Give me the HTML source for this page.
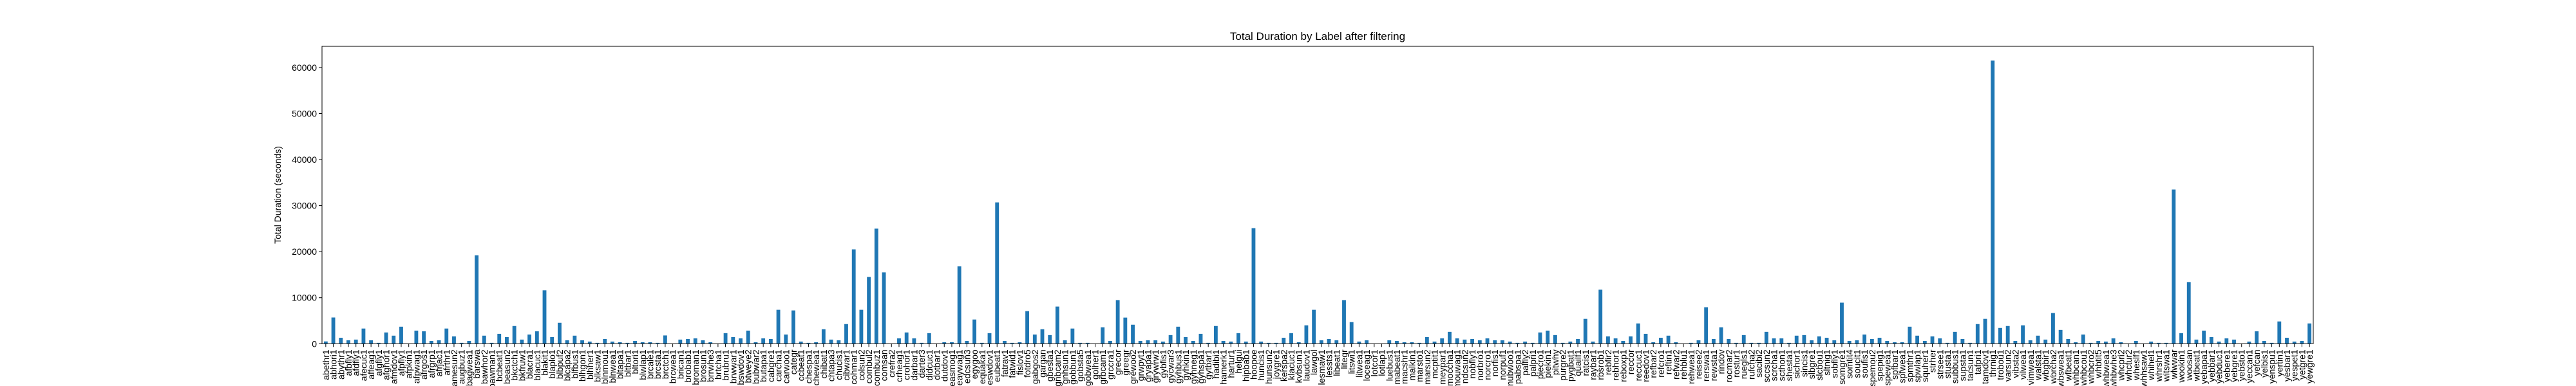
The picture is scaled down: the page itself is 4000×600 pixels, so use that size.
<!DOCTYPE html>
<html><head><meta charset="utf-8"><style>
html,body{margin:0;padding:0;background:#fff;width:4000px;height:600px;overflow:hidden}
svg text{font-family:"Liberation Sans","DejaVu Sans",sans-serif;fill:#000}
</style></head><body>
<svg id="chart" width="4000" height="600" xmlns="http://www.w3.org/2000/svg">
<text x="2046" y="62" font-size="17" text-anchor="middle">Total Duration by Label after filtering</text>
<text transform="translate(436,303) rotate(-90)" font-size="14" text-anchor="middle">Total Duration (seconds)</text>
<g id="bars"></g>
<g id="yaxis"></g>
<g id="xaxis"></g>
<rect x="500" y="72" width="3092" height="462.3" fill="none" stroke="#000" stroke-width="1"/>
</svg>
<script>
const labels = ["abethr1","abhori1","abythr1","afbfly1","afdfly1","afecuc1","affeag1","afgfly1","afghor1","afmdov1","afpfly1","afpkin1","afpwag1","afrgos1","afrgrp1","afrjac1","afrthr1","amesun2","augbuz1","bagwea1","barswa","bawhor2","bawman1","bcbeat1","beasun2","bkctch1","bkfruw1","blacra1","blacuc1","blakit1","blaplo1","blbpuf2","blcapa2","blfbus1","blhgon1","blhher1","blksaw1","blnmou1","blnwea1","bltapa1","bltbar1","bltori1","blwlap1","brcale1","brcsta1","brctch1","brcwea1","brican1","brobab1","broman1","brosun1","brrwhe3","brtcha1","brubru1","brwwar1","bswdov1","btweye2","bubwar2","butapa1","cabgre1","carcha1","carwoo1","categr","ccbeat1","chespa1","chewea1","chibat1","chtapa3","chucis1","cibwar1","cohmar1","colsun2","combul2","combuz1","comsan","crefra2","crheag1","crohor1","darbar1","darter3","didcuc1","dotbar1","dutdov1","easmog1","eaywag1","edcsun3","egygoo","equaka1","eswdov1","eubeat1","fatrav1","fatwid1","fislov1","fotdro5","gabgos2","gargan","gbesta1","gnbcam2","gnhsun1","gobbun1","gobsta5","gobwea1","golher1","grbcam1","grccra1","grecor","greegr","grewoo2","grwpyt1","gryapa1","grywrw1","gybfis1","gycwar3","gyhbus1","gyhkin1","gyhneg1","gyhspa1","gytbar1","hadibi1","hamerk1","hartur1","helgui","hipbab1","hoopoe","huncis1","hunsun2","joygre1","kerspa2","klacuc1","kvbsun1","laudov1","lawgol","lesmaw1","lessts1","libeat1","litegr","litswi1","litwea1","loceag1","lotcor1","lotlap1","luebus1","mabeat1","macshr1","malkin1","marsto1","marsun2","mcptit1","meypar1","moccha1","mouwag1","ndcsun2","nobfly1","norbro1","norcro1","norfis1","norpuf1","nubwoo1","pabspa1","palfly2","palpri1","piecro1","piekin1","pitwhy","purgre2","pygbat1","quailf1","ratcis1","raybar1","rbsrob1","rebfir2","rebhor1","reboxp1","reccor","reccuc1","reedov1","refbar2","refcro1","reftin1","refwar2","rehblu1","rehwea1","reisee2","rerswa1","rewsta1","rindov","rocmar2","rostur1","ruegls1","rufcha2","sacibi2","sccsun2","scrcha1","scthon1","shesta1","sichor1","sincis1","slbgre1","slcbou1","sltnig1","sobfly1","somgre1","somtit4","soucit1","soufis1","spemou2","spepig1","spewea1","spfbar1","spfwea1","spmthr1","spwlap1","squher1","strher","strsee1","stusta1","subbus1","supsta1","tacsun1","tafpri1","tamdov1","thrnig1","trobou1","varsun2","vibsta2","vilwea1","vimwea1","walsta1","wbgbir1","wbrcha2","wbswea1","wfbeat1","whbcan1","whbcou1","whbcro2","whbtit5","whbwea1","whbwhe3","whcpri2","whctur2","wheslf1","whhsaw1","whihel1","whrshr1","witswa1","wlwwar","wookin1","woosan","wtbeat1","yebapa1","yebbar1","yebduc1","yebere1","yebgre1","yebsto1","yeccan1","yefcan","yelbis1","yenspu1","yertin1","yesbar1","yespet1","yetgre1","yewgre1"];
const durations = [500,5700,1300,750,900,3300,750,200,2450,1750,3700,30,2850,2700,600,750,3300,1600,200,600,19200,1750,200,2150,1450,3850,900,2000,2700,11600,1450,4550,750,1750,750,470,200,1030,470,330,200,600,330,330,200,1800,30,900,1030,1170,750,330,30,2300,1450,1170,2850,330,1170,1030,7370,2000,7230,470,200,330,3150,900,750,4270,20500,7370,14500,25000,15500,30,1170,2450,1170,200,2300,30,330,330,16800,600,5260,200,2300,30700,600,200,330,7090,2000,3150,1880,8070,750,3300,200,200,30,3570,600,9480,5680,4130,600,750,750,470,1880,3700,1450,600,2150,200,3850,600,470,2300,470,25100,470,200,200,1300,2300,330,4000,7370,750,1030,750,9480,4700,470,750,30,30,750,600,330,330,200,1450,470,1170,2580,1170,900,1030,750,1170,750,750,470,200,470,200,2450,2850,1880,200,470,1030,5400,470,11740,1600,1170,600,1600,4410,2150,330,1300,1750,330,30,200,750,7930,1030,3570,1030,200,1880,200,200,2580,1170,1170,200,1750,1880,750,1600,1300,750,8920,600,750,2000,1030,1300,600,330,330,3700,1750,600,1600,1170,200,2580,1030,200,4270,5400,61500,3430,3850,600,4000,750,1750,900,6670,3000,1030,330,2000,200,600,470,1170,330,30,600,30,470,200,200,33500,2300,13400,900,2850,1450,470,1170,900,30,470,2700,600,200,4840,1300,470,600,4410];
const yTicks = [0,10000,20000,30000,40000,50000,60000];

const NS = "http://www.w3.org/2000/svg";
const plotLeft = 500, plotRight = 3592, plotTop = 72, plotBottom = 534.3, yMax = 64600;
const slot = (plotRight - plotLeft) / labels.length;
function xPos(i) { return plotLeft + slot * (i + 0.5); }
function yPos(v) { return plotBottom - (v / yMax) * (plotBottom - plotTop); }
const barsG = document.getElementById('bars');
const xaxisG = document.getElementById('xaxis');
const yaxisG = document.getElementById('yaxis');

labels.forEach(function (lab, i) {
  const v = durations[i] || 0;
  const r = document.createElementNS(NS, 'rect');
  
  
  r.setAttribute('x', xPos(i) - slot * 0.25);
  r.setAttribute('width', slot * 0.5);
  r.setAttribute('y', yPos(v));
  r.setAttribute('height', plotBottom - yPos(v));
  r.setAttribute('fill', '#1f77b4');
  barsG.appendChild(r);

  const t = document.createElementNS(NS, 'line');
  
  
  t.setAttribute('x1', xPos(i)); t.setAttribute('x2', xPos(i));
  t.setAttribute('y1', plotBottom); t.setAttribute('y2', plotBottom + 5);
  t.setAttribute('stroke', '#000');
  xaxisG.appendChild(t);

  const tx = document.createElementNS(NS, 'text');
  
  
  tx.setAttribute('transform', 'translate(' + (xPos(i) + 5) + ',' + (plotBottom + 9) + ') rotate(-90)');
  tx.setAttribute('text-anchor', 'end');
  tx.setAttribute('font-size', '14');
  tx.textContent = lab;
  xaxisG.appendChild(tx);
});

yTicks.forEach(function (v) {
  const y = yPos(v);
  const t = document.createElementNS(NS, 'line');
  
  
  t.setAttribute('x1', plotLeft - 5); t.setAttribute('x2', plotLeft);
  t.setAttribute('y1', y); t.setAttribute('y2', y);
  t.setAttribute('stroke', '#000');
  yaxisG.appendChild(t);
  const tx = document.createElementNS(NS, 'text');
  
  
  tx.setAttribute('x', plotLeft - 8);
  tx.setAttribute('y', y + 5);
  tx.setAttribute('text-anchor', 'end');
  tx.setAttribute('font-size', '14');
  tx.textContent = v;
  yaxisG.appendChild(tx);
});
</script>
</body></html>
